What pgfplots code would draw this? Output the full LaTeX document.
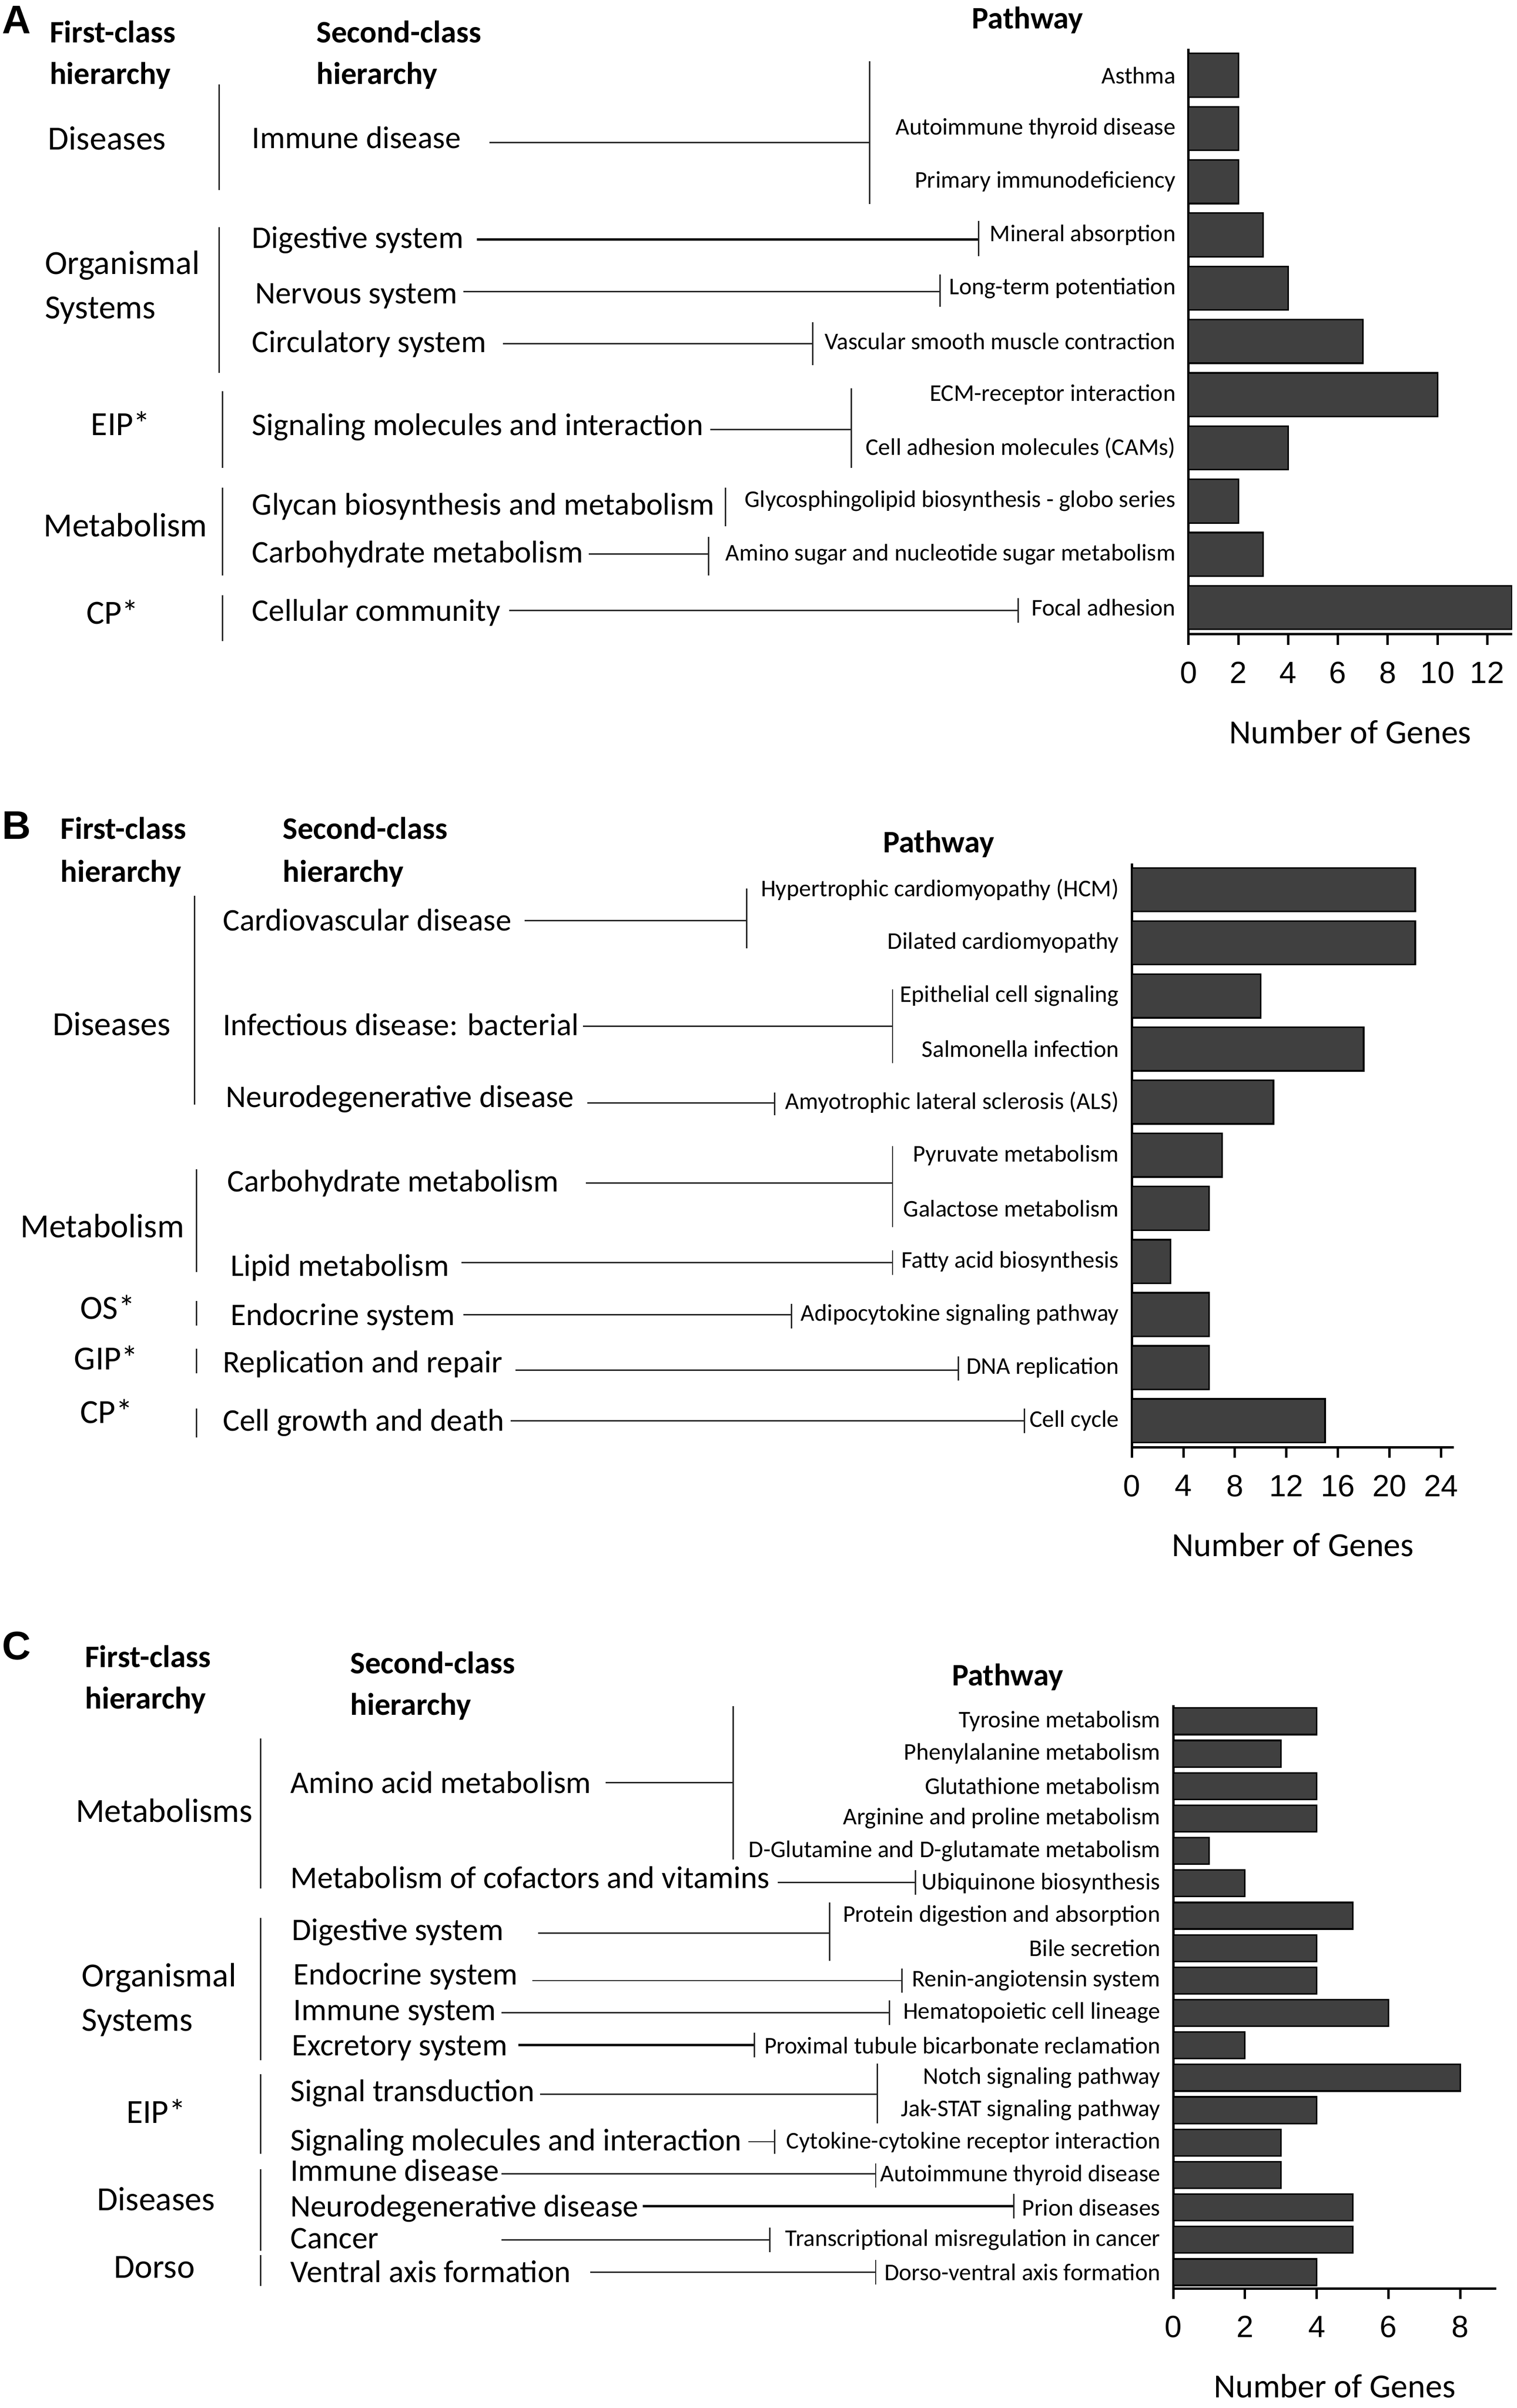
\documentclass[border=0pt]{standalone}
\usepackage{fontspec}
\setmainfont{Carlito}
\newfontfamily\arialfont{Liberation Sans}
\usepackage{pgfplots}
\pgfplotsset{compat=1.18}
\definecolor{barfill}{RGB}{64,64,64}

\pgfplotsset{
  keggbar/.style={
    xbar, scale only axis,
    y dir=reverse, ymin=-0.5, xmin=0,
    bar width=0.82,
    axis x line*=bottom, axis y line*=left,
    axis line style={-, line width=0.8pt, black},
    xtick align=outside, major tick length=3.5pt,
    xtick style={line width=0.8pt, black},
    ytick style={draw=none},
    /pgf/number format/assume math mode=true,
    xticklabel style={font=\arialfont\fontsize{10}{12}\selectfont, yshift=-2pt},
    yticklabel style={font=\fontsize{7.8}{9}\selectfont, inner sep=0pt, anchor=east, xshift=-0.5pt},
    xlabel={Number of Genes},
    xlabel style={font=\fontsize{11}{13}\selectfont, at={(axis description cs:0.5,0)}, anchor=center, yshift=-31.8pt},
    anchor=south west,
  },
  gbar/.style={fill=barfill, draw=black, line width=0.5pt},
}
\tikzset{hdr/.style={anchor=mid west, inner sep=0pt, yshift=-1pt, font=\bfseries\fontsize{10.2}{12}\selectfont}}

\begin{document}
\begin{tikzpicture}
\begin{scope}[x=0.5pt, y=-0.5pt]
\useasboundingbox (0,0) rectangle (989,1568);
\end{scope}

% ---------- panel A ----------
\begin{axis}[keggbar, at={(387.5pt,-206.7pt)}, width=105.5pt, height=190.85pt,
  ymax=10.5, xmax=13, xtick={0,2,...,12}, ytick={0,...,10},
  yticklabels={Asthma, Autoimmune thyroid disease, Primary immunodeficiency,
    Mineral absorption, Long-term potentiation, Vascular smooth muscle contraction,
    ECM-receptor interaction\hspace{2pt}, Cell adhesion molecules (CAMs),
    Glycosphingolipid biosynthesis - globo series,
    Amino sugar and nucleotide sugar metabolism, Focal adhesion}]
\addplot[gbar] coordinates {(2,0) (2,1) (2,2) (3,3) (4,4) (7,5) (10,6) (4,7) (2,8) (3,9) (13,10)};
\end{axis}

% ---------- panel B ----------
\begin{axis}[keggbar, at={(369pt,-471.65pt)}, width=105pt, height=190.3pt,
  ymax=10.5, xmax=25, xtick={0,4,...,24}, ytick={0,...,10},
  yticklabels={Hypertrophic cardiomyopathy (HCM), Dilated cardiomyopathy,
    Epithelial cell signaling, Salmonella infection, Amyotrophic lateral sclerosis (ALS),
    Pyruvate metabolism, Galactose metabolism, Fatty acid biosynthesis,
    Adipocytokine signaling pathway, DNA replication, Cell cycle}]
\addplot[gbar] coordinates {(22,0) (22,1) (10,2) (18,3) (11,4) (7,5) (6,6) (3,7) (6,8) (6,9) (15,10)};
\end{axis}

% ---------- panel C ----------
\begin{axis}[keggbar, at={(382.5pt,-745.8pt)}, width=105.3pt, height=190.1pt,
  ymax=17.5, xmax=9, xtick={0,2,...,8}, ytick={0,...,17},
  yticklabels={Tyrosine metabolism, Phenylalanine metabolism, Glutathione metabolism,
    Arginine and proline metabolism, D-Glutamine and D-glutamate metabolism,
    Ubiquinone biosynthesis, Protein digestion and absorption, Bile secretion,
    Renin-angiotensin system, Hematopoietic cell lineage,
    Proximal tubule bicarbonate reclamation, Notch signaling pathway,
    Jak-STAT signaling pathway, Cytokine-cytokine receptor interaction,
    Autoimmune thyroid disease, Prion diseases,
    Transcriptional misregulation in cancer, Dorso-ventral axis formation}]
\addplot[gbar] coordinates {(4,0) (3,1) (4,2) (4,3) (1,4) (2,5) (5,6) (4,7) (4,8) (6,9)
  (2,10) (8,11) (4,12) (3,13) (3,14) (5,15) (5,16) (4,17)};
\end{axis}

\begin{scope}[x=0.5pt, y=-0.5pt, every node/.style={inner sep=0pt, font=\fontsize{10.25}{12}\selectfont},
  txt/.style={anchor=mid west, yshift=-1pt}, fc/.style={anchor=mid west, yshift=-1pt, font=\fontsize{11}{13}\selectfont},
  lnk/.style={line width=0.45pt, black!85}, lnkb/.style={line width=0.8pt, black},
  lett/.style={anchor=mid west, yshift=-1pt, font=\arialfont\bfseries\fontsize{13}{13}\selectfont}]
% ===== A =====
\node[lett] at (1,15) {A};
\node[hdr] at (32,21) {First-class};
\node[hdr] at (32,48) {hierarchy};
\node[hdr] at (206,21) {Second-class};
\node[hdr] at (206,48) {hierarchy};
\node[hdr, anchor=mid] at (670,12) {Pathway};
\node[fc] at (31,91) {Diseases};
\node[fc] at (29,172) {Organismal};
\node[fc] at (29,201) {Systems};
\node[fc] at (59,277) {EIP*};
\node[fc] at (28,343) {Metabolism};
\node[fc] at (56,400) {CP*};
\draw[lnk] (143,55)--(143,124) (143,148)--(143,243) (145,255)--(145,305)
  (145,318)--(145,375) (145,388)--(145,418);
\node[txt] at (164,90) {Immune disease};
\node[txt] at (164,155) {Digestive system};
\node[txt] at (166,191) {Nervous system};
\node[txt] at (164,223) {Circulatory system};
\node[txt] at (164,277) {Signaling molecules and interaction};
\node[txt] at (164,329) {Glycan biosynthesis and metabolism};
\node[txt] at (164,360) {Carbohydrate metabolism};
\node[txt] at (164,398) {Cellular community};
\draw[lnk] (319,93)--(567,93) (567,40)--(567,133);
\draw[lnkb] (311,156)--(638,156);
\draw[lnk] (638,144)--(638,167);
\draw[lnk] (302,190)--(613,190) (613,179)--(613,200);
\draw[lnk] (328,224)--(530,224) (530,210)--(530,238);
\draw[lnk] (463,280)--(555,280) (555,253)--(555,305);
\draw[lnk] (473,318)--(473,343);
\draw[lnk] (384,361)--(462,361) (462,350)--(462,375);
\draw[lnk] (332,398)--(664,398) (664,390)--(664,406);

% ===== B =====
\node[lett] at (1,540) {B};
\node[hdr] at (39,540) {First-class};
\node[hdr] at (39,568) {hierarchy};
\node[hdr] at (184,540) {Second-class};
\node[hdr] at (184,568) {hierarchy};
\node[hdr, anchor=mid] at (612,549) {Pathway};
\node[fc] at (34,668) {Diseases};
\node[fc] at (13,800) {Metabolism};
\node[fc] at (52,853) {OS*};
\node[fc] at (48,886) {GIP*};
\node[fc] at (52,921) {CP*};
\draw[lnk] (127,584)--(127,720) (128,762)--(128,829) (128,848)--(128,864)
  (128,879)--(128,895) (128,918)--(128,937);
\node[txt] at (145,600) {Cardiovascular disease};
\node[txt] at (145,668) {Infectious disease: bacterial};
\node[txt] at (147,715) {Neurodegenerative disease};
\node[txt] at (148,770) {Carbohydrate metabolism};
\node[txt] at (150,825) {Lipid metabolism};
\node[txt] at (150,857) {Endocrine system};
\node[txt] at (145,888) {Replication and repair};
\node[txt] at (145,926) {Cell growth and death};
\draw[lnk] (342,600)--(487,600) (487,579)--(487,618);
\draw[lnk] (380,669)--(582,669) (582,645)--(582,693);
\draw[lnk] (383,719)--(505,719) (505,712)--(505,727);
\draw[lnk] (382,771)--(582,771) (582,747)--(582,800);
\draw[lnk] (301,823)--(582,823) (582,815)--(582,831);
\draw[lnk] (302,857)--(516,857) (516,850)--(516,866);
\draw[lnk] (336,893)--(625,893) (625,884)--(625,900);
\draw[lnk] (333,926)--(668,926) (668,918)--(668,934);

% ===== C =====
\node[lett] at (1,1075) {C};
\node[hdr] at (55,1080) {First-class};
\node[hdr] at (55,1107) {hierarchy};
\node[hdr] at (228,1084) {Second-class};
\node[hdr] at (228,1111) {hierarchy};
\node[hdr, anchor=mid] at (657,1092) {Pathway};
\node[fc] at (49,1181) {Metabolisms};
\node[fc] at (53,1288) {Organismal};
\node[fc] at (53,1317) {Systems};
\node[fc] at (82,1377) {EIP*};
\node[fc] at (63,1434) {Diseases};
\node[fc] at (74,1478) {Dorso};
\draw[lnk] (170,1133)--(170,1231) (170,1250)--(170,1343) (170,1352)--(170,1404)
  (170,1414)--(170,1467) (170,1470)--(170,1490);
\node[txt] at (189,1162) {Amino acid metabolism};
\node[txt] at (189,1224) {Metabolism of cofactors and vitamins};
\node[txt] at (190,1258) {Digestive system};
\node[txt] at (191,1287) {Endocrine system};
\node[txt] at (191,1310) {Immune system};
\node[txt] at (190,1333) {Excretory system};
\node[txt] at (189,1363) {Signal transduction};
\node[txt] at (189,1395) {Signaling molecules and interaction};
\node[txt] at (189,1415) {Immune disease};
\node[txt] at (189,1438) {Neurodegenerative disease};
\node[txt] at (189,1459) {Cancer};
\node[txt] at (189,1481) {Ventral axis formation};
\draw[lnk] (395,1162)--(478,1162) (478,1112)--(478,1212);
\draw[lnk] (507,1227)--(597,1227) (597,1219)--(597,1235);
\draw[lnk] (351,1260)--(541,1260) (541,1240)--(541,1278);
\draw[lnk] (347,1291)--(588,1291) (588,1283)--(588,1299);
\draw[lnk] (327,1312)--(580,1312) (580,1304)--(580,1320);
\draw[lnkb] (338,1333)--(492,1333);
\draw[lnk] (492,1325)--(492,1341);
\draw[lnk] (352,1365)--(572,1365) (572,1345)--(572,1384);
\draw[lnk] (488,1396)--(505,1396) (505,1388)--(505,1404);
\draw[lnk] (327,1417)--(571,1417) (571,1410)--(571,1426);
\draw[lnkb] (419,1438)--(661,1438);
\draw[lnk] (661,1430)--(661,1446);
\draw[lnk] (327,1460)--(502,1460) (502,1452)--(502,1468);
\draw[lnk] (385,1481)--(571,1481) (571,1473)--(571,1489);
\end{scope}
\end{tikzpicture}
\end{document}
